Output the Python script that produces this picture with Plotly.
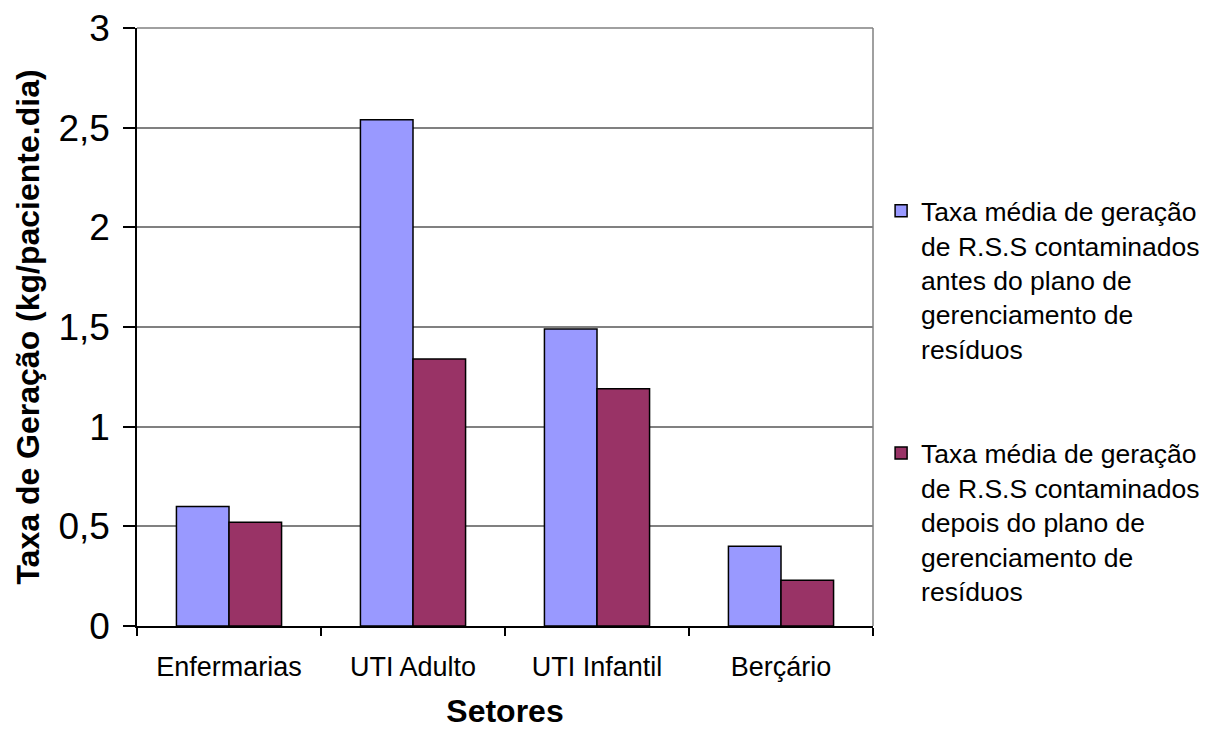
import plotly.graph_objects as go

categories = ["Enfermarias", "UTI Adulto", "UTI Infantil", "Berçário"]
antes = [0.60, 2.54, 1.49, 0.40]
depois = [0.52, 1.34, 1.19, 0.23]
name_antes = "Taxa média de geração<br>de R.S.S contaminados<br>antes do plano de<br>gerenciamento de<br>resíduos"
name_depois = "Taxa média de geração<br>de R.S.S contaminados<br>depois do plano de<br>gerenciamento de<br>resíduos"
y_ticks = [0, 0.5, 1, 1.5, 2, 2.5, 3]

FONT = "Liberation Sans, Arial, sans-serif"

fig = go.Figure()
fig.add_trace(go.Bar(x=categories, y=antes, name=name_antes, legendgroup="a",
                     marker=dict(color="#9999FF", line=dict(color="black", width=1.5))))
fig.add_trace(go.Bar(x=categories, y=depois, name=name_depois, legendgroup="b",
                     marker=dict(color="#993366", line=dict(color="black", width=1.5))))

# page body has an 8px margin: size the figure so it fits the window exactly
fig.update_layout(
    width=1203, height=721,
    margin=dict(l=129, r=338, t=20, b=103, autoexpand=False),
    paper_bgcolor="white", plot_bgcolor="white",
    barmode="group", bargap=0.4286, bargroupgap=0,
    separators=", ",
    font=dict(family=FONT, color="black"),
    legend=dict(x=1.011, y=0.734, xanchor="left", yanchor="top",
                valign="top", tracegroupgap=67,
                font=dict(size=26.5, family=FONT, color="black"),
                bgcolor="rgba(0,0,0,0)"),
    shapes=[dict(type="line", xref="paper", yref="paper", x0=1, x1=1, y0=0, y1=1,
                 line=dict(color="#808080", width=1.5)),
            dict(type="line", xref="paper", yref="paper", x0=0, x1=1, y0=1, y1=1,
                 line=dict(color="#808080", width=1.5))],
)
fig.update_yaxes(range=[0, 3], tickvals=y_ticks, showgrid=True, gridcolor="#808080", gridwidth=1.5,
                 showline=True, linecolor="black", linewidth=1.5,
                 ticks="outside", ticklen=12, tickcolor="black", tickwidth=1.5,
                 ticklabelstandoff=6, automargin=False, ticklabeloverflow="allow",
                 tickfont=dict(size=37, family=FONT, color="black"),
                 zeroline=False,
                 title=dict(text="<b>Taxa de Geração (kg/paciente.dia)</b>", standoff=9,
                            font=dict(size=32, family=FONT, color="black")))
fig.update_xaxes(showline=True, linecolor="black", linewidth=1.5,
                 ticks="outside", tickson="boundaries", ticklen=8, tickcolor="black", tickwidth=1.5,
                 ticklabelstandoff=16, automargin=False,
                 tickfont=dict(size=27, family=FONT, color="black"),
                 title=dict(text="<b>Setores</b>", standoff=25,
                            font=dict(size=32, family=FONT, color="black")))

fig.write_html("out.html")
